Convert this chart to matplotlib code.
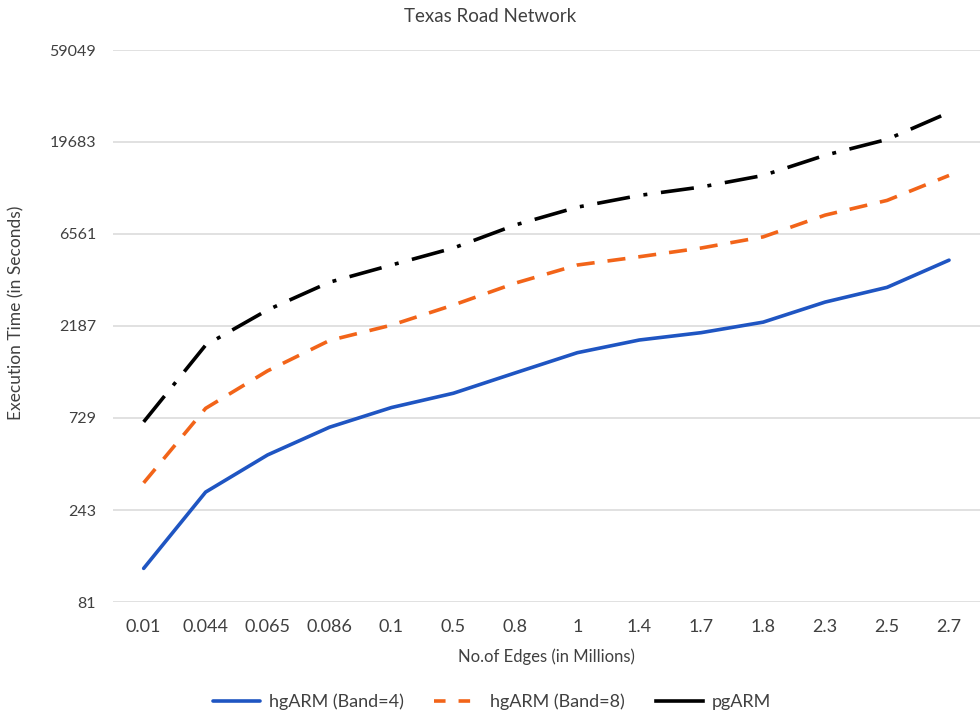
import matplotlib
matplotlib.use('Agg')
import matplotlib.pyplot as plt
from matplotlib.ticker import FixedLocator, NullLocator

plt.rcParams['font.family'] = ['Lato', 'DejaVu Sans']

# Data (execution time in seconds vs. number of edges)
edges = ['0.01', '0.044', '0.065', '0.086', '0.1', '0.5', '0.8', '1',
         '1.4', '1.7', '1.8', '2.3', '2.5', '2.7']
hgarm_band4 = [121, 301, 469, 653, 826, 980, 1250, 1590,
               1850, 2020, 2290, 2910, 3470, 4800]
hgarm_band8 = [336, 818, 1280, 1840, 2210, 2810, 3650, 4530,
               5000, 5550, 6340, 8220, 9800, 13200]
pgarm = [696, 1740, 2650, 3690, 4530, 5550, 7310, 9040,
         10400, 11500, 13200, 16800, 20300, 28000]
y_ticks = [81, 243, 729, 2187, 6561, 19683, 59049]

TEXT = '#404040'
GRID = '#d9d9d9'
LW = 2.6

fig = plt.figure(figsize=(9.8, 7.15), dpi=100, facecolor='white')
ax = fig.add_axes([0.115, 1 - 602 / 715, 0.885, (602 - 50) / 715])

x = list(range(len(edges)))
ax.plot(x, hgarm_band4, color='#1f55c2', lw=LW, solid_capstyle='round',
        label='hgARM (Band=4)')
ax.plot(x, hgarm_band8, color='#f26419', lw=LW, linestyle=(0, (5.0, 3.6)),
        label='hgARM (Band=8)')
ax.plot(x, pgarm, color='black', lw=LW, linestyle=(0, (9.2, 3.8, 1.1, 3.8)),
        label='pgARM')

ax.set_yscale('log', base=3)
ax.set_ylim(81, 59049)
ax.yaxis.set_major_locator(FixedLocator(y_ticks))
ax.yaxis.set_minor_locator(NullLocator())
ax.set_yticklabels([str(v) for v in y_ticks])
ax.set_xlim(-0.5, len(edges) - 0.5)
ax.set_xticks(x)
ax.set_xticklabels(edges)

ax.grid(axis='y', color=GRID, lw=1.1)
ax.set_axisbelow(True)
for s in ax.spines.values():
    s.set_visible(False)
ax.tick_params(axis='both', length=0, colors=TEXT)
ax.tick_params(axis='x', labelsize=13, pad=12)
ax.tick_params(axis='y', labelsize=11.5, pad=12)

fig.text(0.5, 1 - 17 / 715, 'Texas Road Network', ha='center', va='center',
         fontsize=13.5, color=TEXT)
fig.text(546 / 980, 1 - 657 / 715, 'No.of Edges (in Millions)', ha='center',
         va='center', fontsize=12, color=TEXT)
fig.text(16 / 980, 1 - 313 / 715, 'Execution Time (in Seconds)', ha='center',
         va='center', rotation=90, fontsize=12.5, color=TEXT)

leg = fig.legend(loc='center', bbox_to_anchor=(492 / 980, 1 - 702 / 715),
                 ncol=3, frameon=False, fontsize=13, handlelength=2.6,
                 columnspacing=1.7, handletextpad=0.5)
for t in leg.get_texts():
    t.set_color(TEXT)
leg.get_lines()[0].set_linestyle('-')
leg.get_lines()[1].set_linestyle((0, (3.2, 3.6)))
leg.get_lines()[2].set_linestyle('-')

fig.savefig('out.png', dpi=100)
